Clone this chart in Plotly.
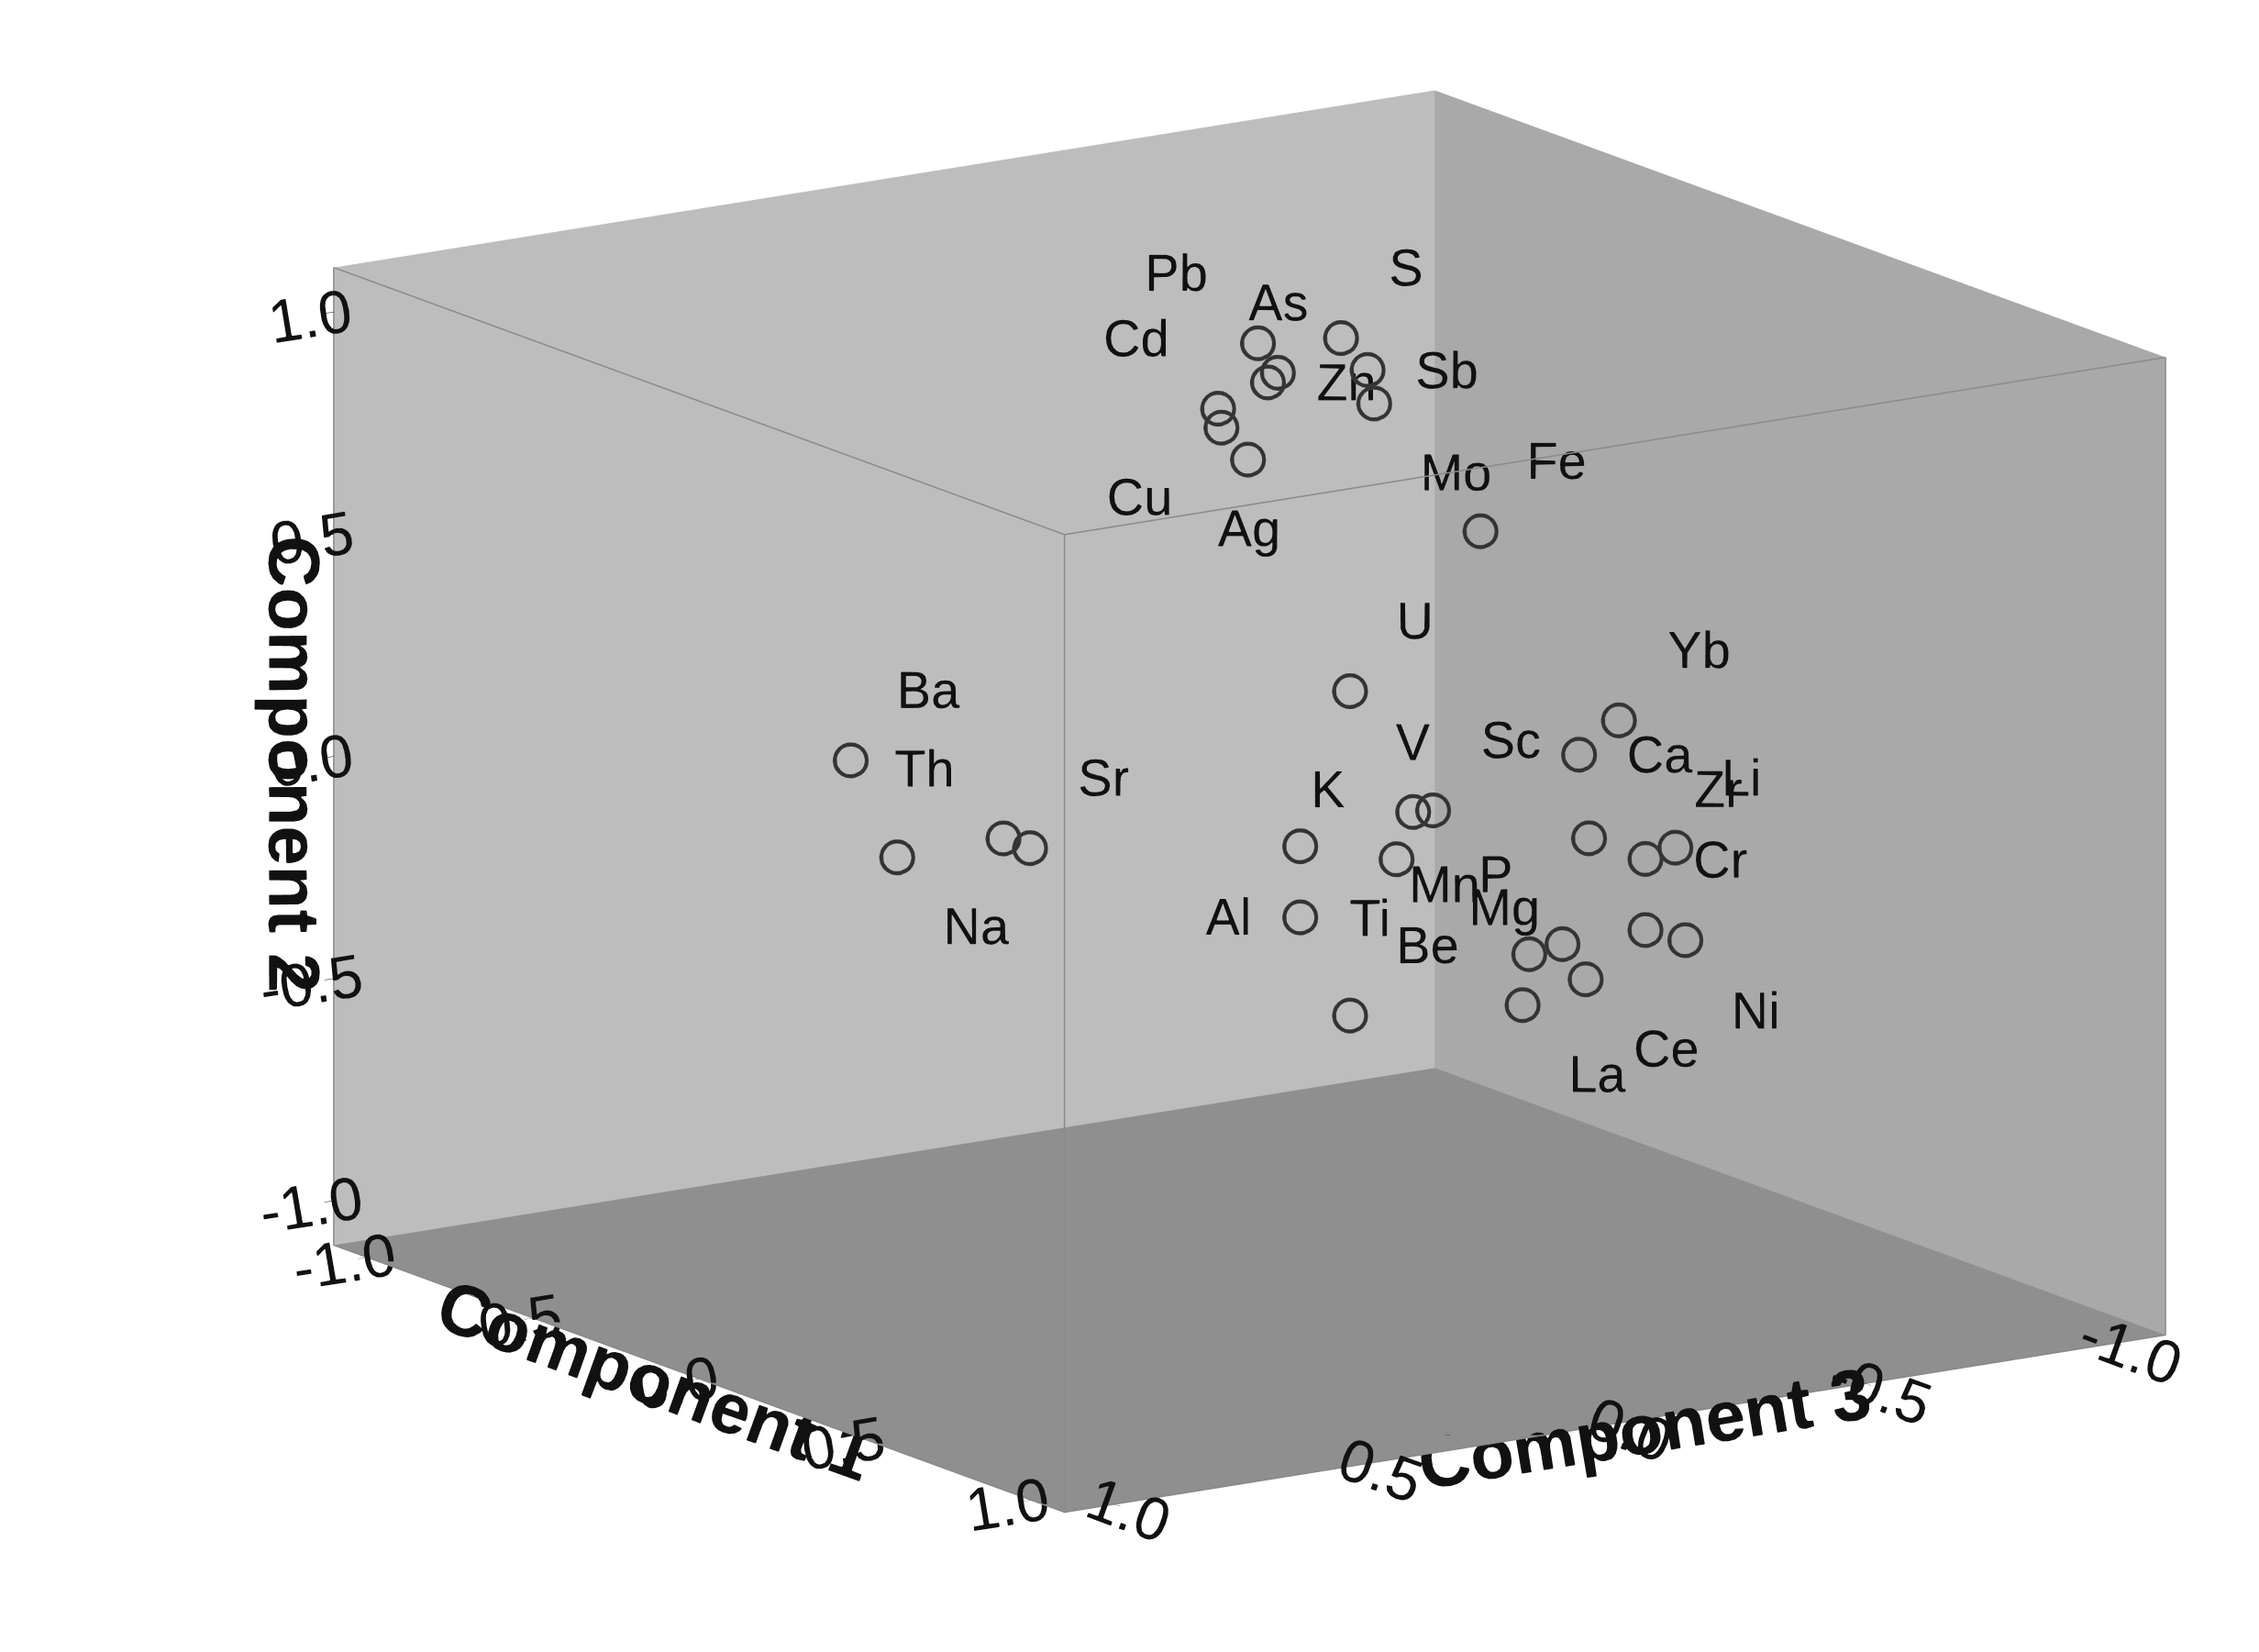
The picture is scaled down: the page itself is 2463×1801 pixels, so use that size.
import plotly.graph_objects as go

# Component loadings
elements = ["Pb", "As", "S", "Sb", "Mo", "Cd", "Cu", "Zn", "Ag", "Fe",
            "Ba", "Th", "Sr", "Na",
            "U", "Sc", "V", "K", "Al", "Ti", "Be",
            "Yb", "Ca", "Mg", "Zr", "Li", "Ni", "Mn", "P", "Cr", "La", "Ce"]
comp1 = [-0.43, -0.37, -0.18, -0.10, -0.08, -0.55, -0.54, -0.40, -0.46, 0.24,
         -0.30, 0.16, 0.24, -0.16,
         0.45, 0.70, 0.64, 0.59, 0.30, 0.30, 0.45,
         0.28, 0.16, 0.19, 0.36, 0.45, 0.48, 0.01, 0.11, 0.36, -0.01, 0.18]
comp2 = [0.86, 0.81, 0.94, 0.89, 0.82, 0.68, 0.64, 0.78, 0.59, 0.62,
         0.12, 0.07, 0.07, -0.06,
         0.39, 0.19, 0.17, 0.05, 0.00, -0.16, -0.34,
         0.16, 0.05, -0.13, -0.13, -0.08, -0.28, -0.44, -0.39, -0.29, -0.56, -0.45]
comp3 = [-0.3, -0.3, -0.3, -0.3, -0.3, -0.3, -0.3, -0.3, -0.3, -0.3,
         0.6, 0.6, 0.6, 0.6,
         0.1, 0.1, 0.1, 0.1, 0.1, 0.1, 0.1,
         -0.55, -0.55, -0.55, -0.55, -0.55, -0.55, -0.55, -0.55, -0.55, -0.55, -0.55]
label_pos = ["top left", "top center", "top right", "middle right", "bottom right",
             "top left", "bottom left", "middle right", "bottom center", "top right",
             "top right", "top left", "top right", "bottom right",
             "top right", "top right", "top center", "top left", "bottom left",
             "middle right", "top right",
             "top right", "middle right", "bottom left", "top right", "top right",
             "bottom right", "top left", "top left", "top right", "bottom right",
             "bottom right"]

ticks = [-1.0, -0.5, 0.0, 0.5, 1.0]
tick_text = ["-1.0", "-0.5", "0.0", "0.5", "1.0"]
lo, hi = -1.1, 1.1
FONT = "Liberation Sans, Arial"

fig = go.Figure()

# front edges of the box (outline of the cube frame)
edge_x = [hi, hi, None, hi, lo, None, hi, hi, None, lo, lo, None, hi, hi]
edge_y = [hi, hi, None, hi, hi, None, hi, lo, None, hi, hi, None, lo, lo]
edge_z = [lo, hi, None, hi, hi, None, hi, hi, None, lo, hi, None, lo, hi]
fig.add_trace(go.Scatter3d(
    x=edge_x, y=edge_y, z=edge_z, mode="lines",
    line=dict(color="#8a8a8a", width=3),
    hoverinfo="skip", showlegend=False,
))

fig.add_trace(go.Scatter3d(
    x=comp1, y=comp3, z=comp2,
    mode="markers+text",
    text=elements,
    textposition=label_pos,
    textfont=dict(family=FONT, size=56, color="#111111"),
    marker=dict(symbol="circle-open", size=22, color="#333333", line=dict(width=4)),
    hoverinfo="text",
    showlegend=False,
))

axis_common = dict(
    tickvals=ticks, ticktext=tick_text,
    tickfont=dict(family=FONT, size=28, color="#111111"),
    showbackground=True, showgrid=False, zeroline=False,
    showspikes=False, linecolor="#888888", linewidth=3,
    ticks="outside", tickcolor="#111111", ticklen=12,
)
title_font = dict(family=FONT, size=78, color="#111111")

fig.update_layout(
    width=2463, height=1801,
    paper_bgcolor="#ffffff",
    margin=dict(l=0, r=0, t=0, b=0),
    scene=dict(
        xaxis=dict(axis_common, range=[lo, hi], backgroundcolor="#bdbdbd",
                   title=dict(text="<b>Component 1</b>", font=title_font)),
        yaxis=dict(axis_common, range=[hi, lo], autorange=False,
                   backgroundcolor="#a9a9a9",
                   title=dict(text="<b>Component 3</b>", font=title_font)),
        zaxis=dict(axis_common, range=[lo, hi], backgroundcolor="#8f8f8f",
                   title=dict(text="<b>Component 2</b>", font=title_font)),
        aspectmode="manual",
        aspectratio=dict(x=1.6, y=1.6, z=1.22),
        camera=dict(eye=dict(x=1.1, y=-0.73, z=0.29),
                    center=dict(x=0, y=0, z=-0.04),
                    projection=dict(type="orthographic")),
        domain=dict(x=[0.1, 1.0], y=[0.0, 1.0]),
    ),
)

fig.write_html("out.html")
